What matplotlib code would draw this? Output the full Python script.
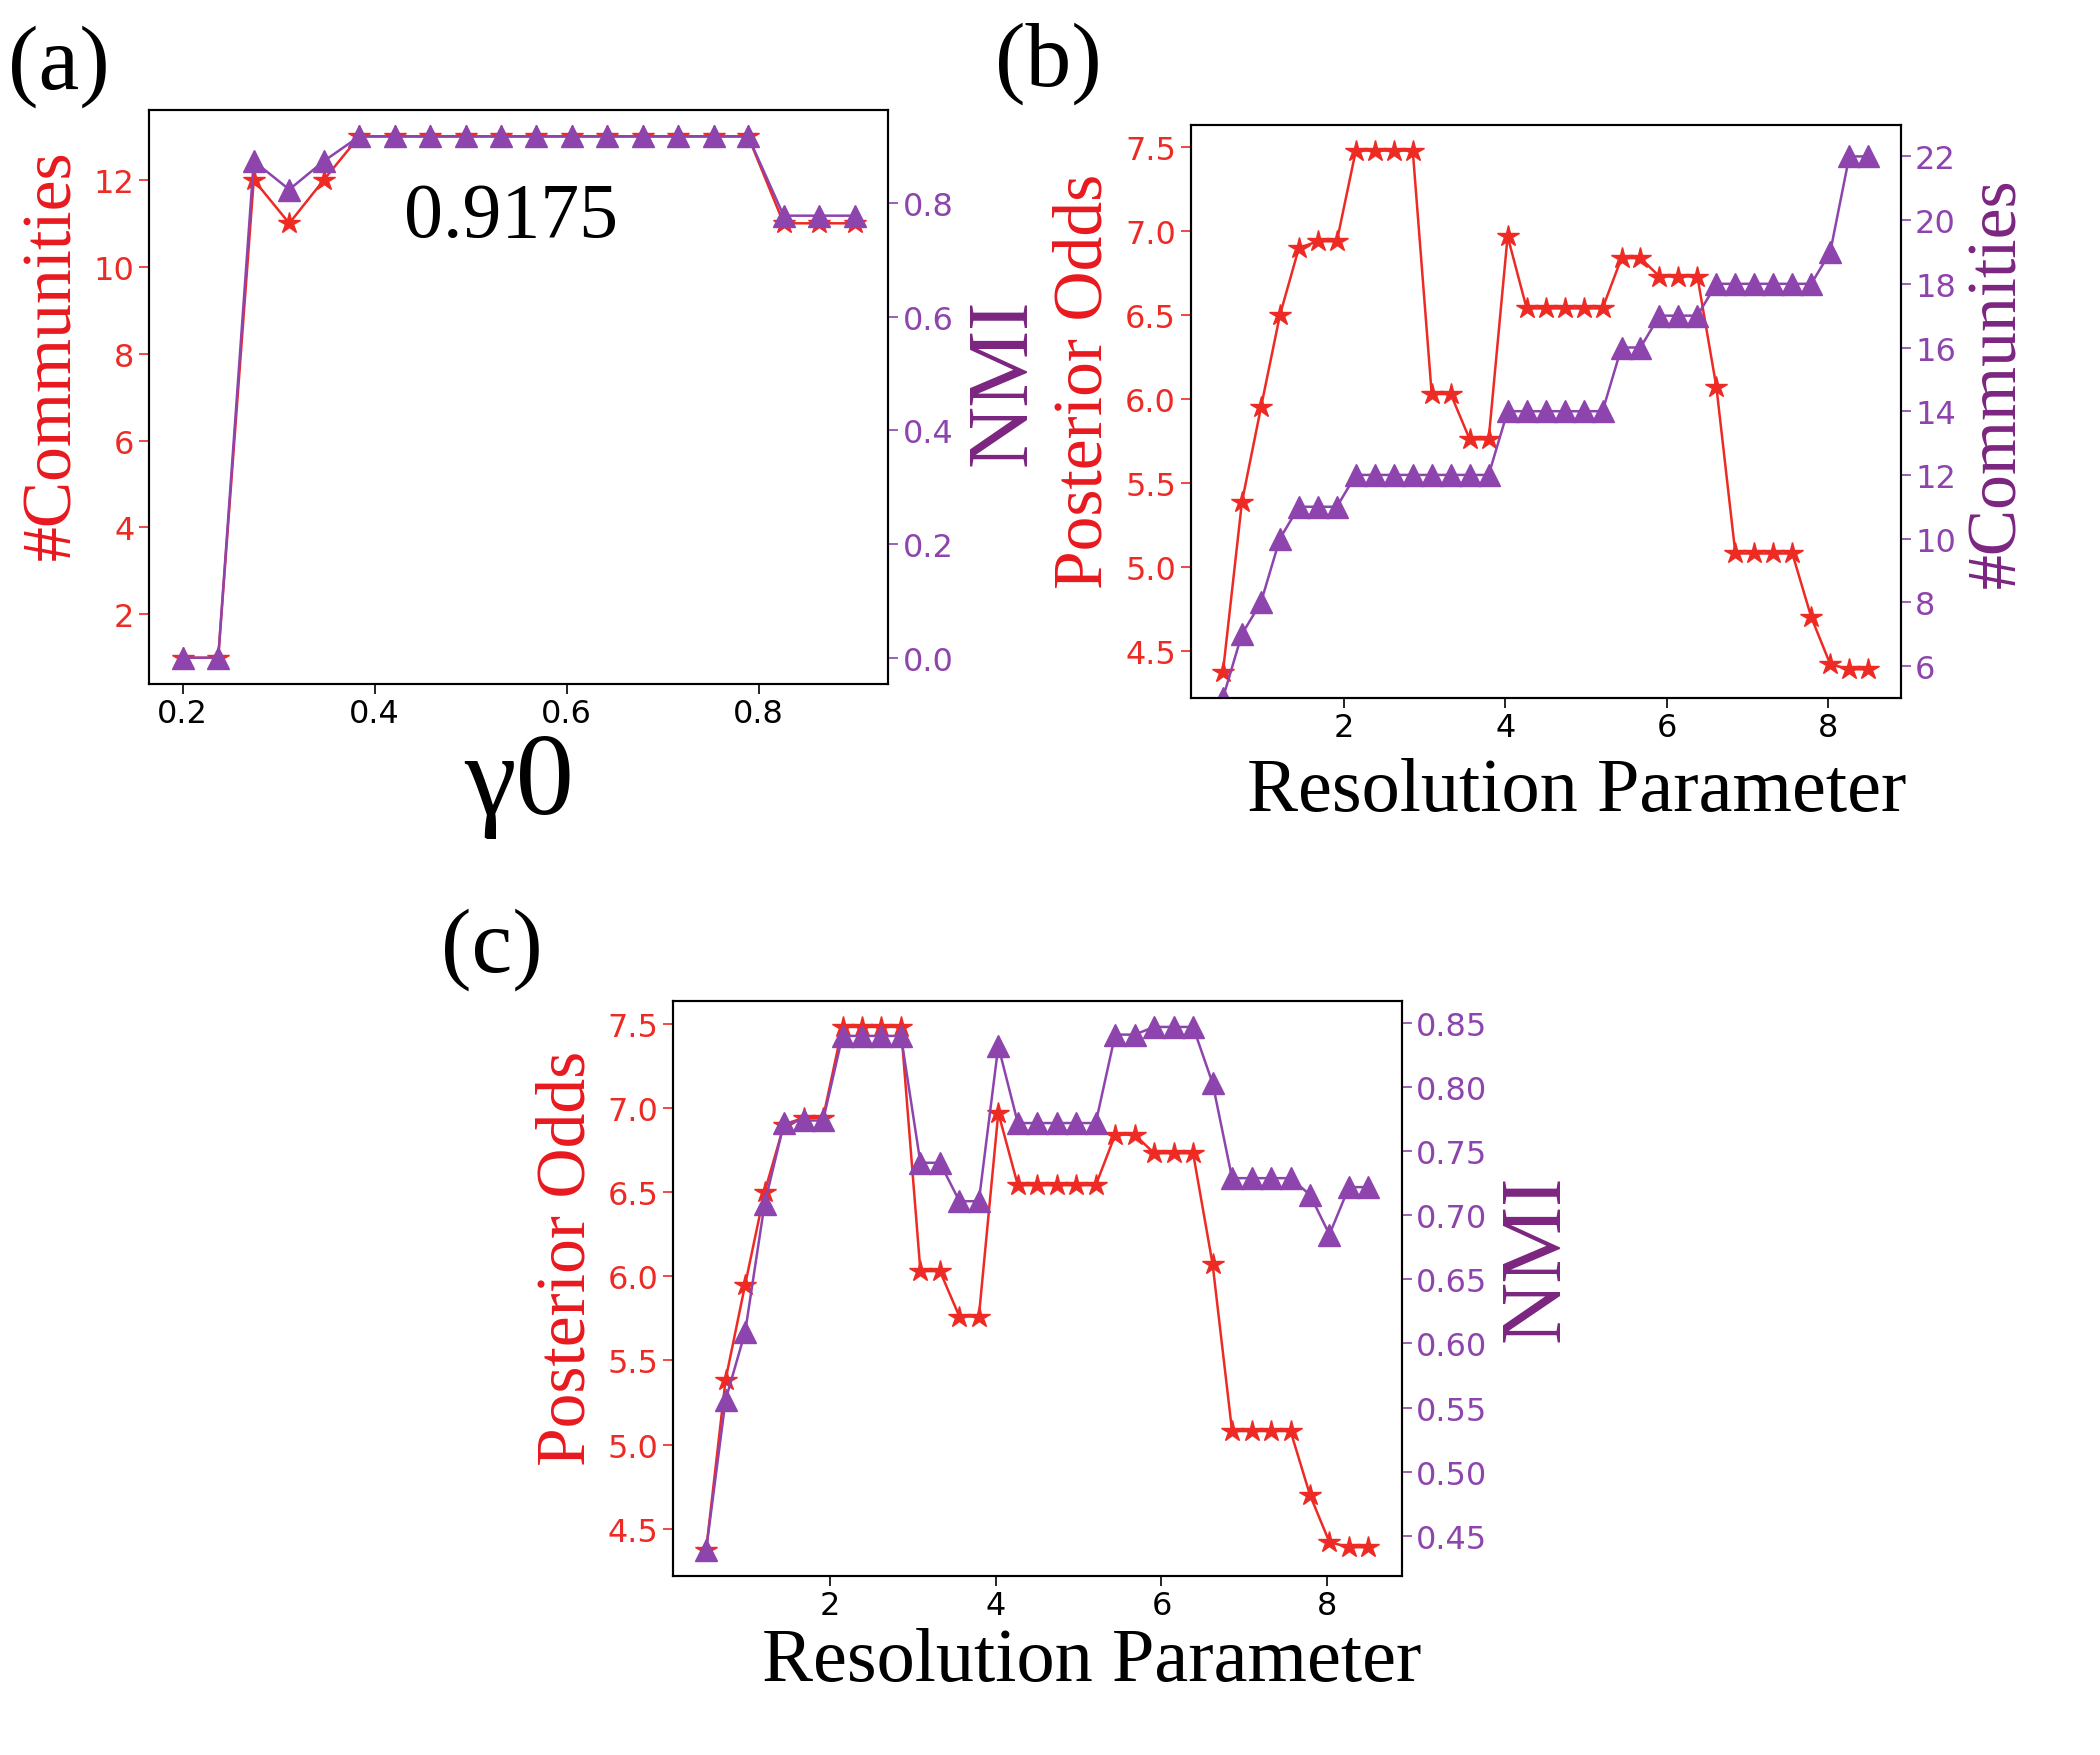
import matplotlib
matplotlib.use("Agg")
import matplotlib.pyplot as plt

# panel (a): community count and NMI against gamma0
gamma0 = [0.2, 0.237, 0.274, 0.311, 0.347, 0.384, 0.421, 0.458, 0.495, 0.532,
          0.568, 0.605, 0.642, 0.679, 0.716, 0.753, 0.789, 0.826, 0.863, 0.9]
comm_a = [1, 1, 12, 11, 12, 13, 13, 13, 13, 13,
          13, 13, 13, 13, 13, 13, 13, 11, 11, 11]
nmi_a = [0.0, 0.0, 0.874, 0.824, 0.874, 0.9175, 0.9175, 0.9175, 0.9175, 0.9175,
         0.9175, 0.9175, 0.9175, 0.9175, 0.9175, 0.9175, 0.9175, 0.778, 0.778, 0.778]
gamma_ticks = [0.2, 0.4, 0.6, 0.8]

# panels (b) and (c): resolution parameter sweep
resolution = [0.5, 0.735, 0.971, 1.206, 1.441, 1.676, 1.912, 2.147, 2.382, 2.618,
              2.853, 3.088, 3.324, 3.559, 3.794, 4.029, 4.265, 4.5, 4.735, 4.971,
              5.206, 5.441, 5.676, 5.912, 6.147, 6.382, 6.618, 6.853, 7.088, 7.324,
              7.559, 7.794, 8.029, 8.265, 8.5]
post_odds = [4.375, 5.386, 5.95, 6.5, 6.90, 6.94, 6.94, 7.48, 7.48, 7.48,
             7.48, 6.03, 6.03, 5.76, 5.76, 6.97, 6.54, 6.54, 6.54, 6.54,
             6.54, 6.84, 6.84, 6.73, 6.73, 6.73, 6.07, 5.08, 5.08, 5.08,
             5.08, 4.70, 4.42, 4.39, 4.39]
comm_b = [5, 7, 8, 10, 11, 11, 11, 12, 12, 12,
          12, 12, 12, 12, 12, 14, 14, 14, 14, 14,
          14, 16, 16, 17, 17, 17, 18, 18, 18, 18,
          18, 18, 19, 22, 22]
comm_b_ticks = [6, 8, 10, 12, 14, 16, 18, 20, 22]
nmi_c = [0.439, 0.556, 0.609, 0.709, 0.772, 0.774, 0.774, 0.84, 0.84, 0.84,
         0.84, 0.741, 0.741, 0.711, 0.711, 0.832, 0.772, 0.772, 0.772, 0.772,
         0.772, 0.841, 0.841, 0.847, 0.847, 0.847, 0.803, 0.729, 0.729, 0.729,
         0.729, 0.716, 0.685, 0.722, 0.722]

RED = "#ee2a24"
PURPLE = "#8e44ad"
RED_LBL = "#e8191f"
PURPLE_LBL = "#7b2580"
SERIF = "Liberation Serif"
TICK_FS = 23
MS = 16


def style(ax, color):
    ax.tick_params(axis="y", colors=color, labelsize=TICK_FS, length=7, width=1.2)
    ax.tick_params(axis="x", labelsize=TICK_FS, length=7, width=1.2)
    for sp in ax.spines.values():
        sp.set_linewidth(1.5)


def panel(rect, x, left, right, llabel, rlabel, xlabel, xsize=53, ly=0.55, ry=0.55,
          lx=0.5, rsize=50):
    ax = fig.add_axes(rect)
    ax.plot(x, left, color=RED, marker="*", ms=MS, lw=1.8)
    ax2 = ax.twinx()
    ax2.plot(x, right, color=PURPLE, marker="^", ms=MS, lw=1.8)
    style(ax, RED)
    style(ax2, PURPLE)
    ax.set_ylabel(llabel, color=RED_LBL, fontsize=50, family=SERIF, labelpad=6)
    ax2.set_ylabel(rlabel, color=PURPLE_LBL, fontsize=rsize, family=SERIF, labelpad=8)
    ax.set_xlabel(xlabel, fontsize=xsize, family=SERIF, labelpad=4)
    ax.yaxis.label.set_y(ly)
    ax2.yaxis.label.set_y(ry)
    ax.xaxis.label.set_x(lx)
    return ax, ax2


fig = plt.figure(figsize=(21, 17.56), dpi=100)

ax_a, ax_a2 = panel([0.071, 0.610, 0.352, 0.3266], gamma0, comm_a, nmi_a,
                    "#Communities", "NMI", "γ0", xsize=84, ly=0.575, ry=0.528,
                    rsize=62)
ax_a.set_xticks(gamma_ticks)
ax_a.xaxis.labelpad = 2
ax_a.text(0.49, 0.814, "0.9175", transform=ax_a.transAxes, fontsize=56,
          family=SERIF, ha="center", va="center")

ax_b, ax_b2 = panel([0.567, 0.602, 0.338, 0.3265], resolution, post_odds, comm_b,
                    "Posterior Odds", "#Communities", "Resolution Parameter",
                    xsize=55, ly=0.553, ry=0.55, lx=0.544)
ax_b2.set_ylim(5, 23)
ax_b2.set_yticks(comm_b_ticks)
ax_b.xaxis.labelpad = 10

ax_c, ax_c2 = panel([0.3205, 0.102, 0.3469, 0.3275], resolution, post_odds, nmi_c,
                    "Posterior Odds", "NMI", "Resolution Parameter",
                    xsize=55, ly=0.554, ry=0.554, lx=0.575, rsize=62)

for lab, (px, py) in zip(["(a)", "(b)", "(c)"],
                         [(0.028, 0.962), (0.499, 0.964), (0.234, 0.459)]):
    fig.text(px, py, lab, fontsize=66, family=SERIF, ha="center", va="center")

fig.savefig("out.png", dpi=100)
